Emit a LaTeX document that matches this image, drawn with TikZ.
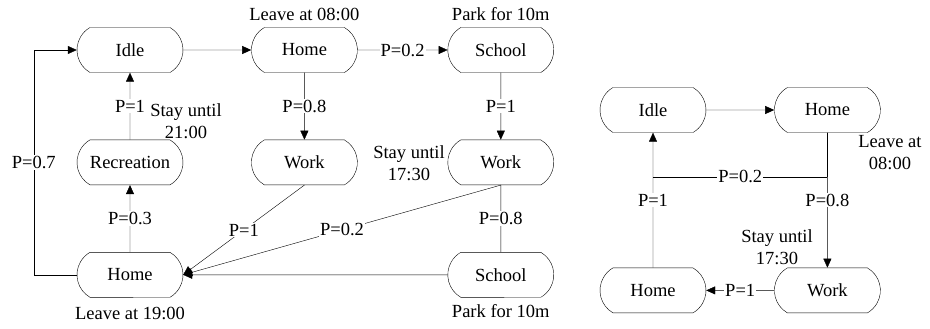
\documentclass[tikz,border=0pt]{standalone}
\usepackage{fontspec}
\setmainfont{Liberation Serif}
\newfontfamily\diagfont{Liberation Serif}
\usetikzlibrary{arrows.meta, positioning, shapes.misc}
\tikzset{
	x=1pt, y=-1pt,
	node distance = 67pt,
	line width = 1.2pt,
	>={Triangle[length=9pt,width=8pt]},
	font = \diagfont\fontsize{18.5}{22}\selectfont,
	state/.style={
		draw,
		rounded rectangle,
		rounded rectangle arc length=120,
		minimum width=110pt,
		minimum height=45pt,
		inner sep=2pt
	},
	edge/.style={
		->
	},
	lbl/.style={
		fill=white,
		inner sep=1pt
	},
	note/.style={
		align=center,
		inner sep=1pt
	}
}
\begin{document}
\begin{tikzpicture}
	\useasboundingbox (0,0) rectangle (930,329);
	\node[state] (idle) at (130,50) {Idle};
	\node[state, right=68pt of idle] (homeT) {Home};
	\node[state, right=90pt of homeT] (schoolT) {School};
	\node[state, below=of idle] (recr) {Recreation};
	\node[state, below=of recr] (homeB) {Home};
	\node[state, below=of homeT] (workM) {Work};
	\node[state, below=of schoolT] (workR) {Work};
	\node[state, below=of workR] (schoolB) {School};
	\node[note, above=5pt of homeT] (leaveT) {Leave at 08:00};
	\node[note, above=5pt of schoolT] (parkT) {Park for 10m};
	\node[note, below=8pt of homeB] (leaveB) {Leave at 19:00};
	\node[note, below=6pt of schoolB] (parkB) {Park for 10m};
	\node[note] (stayA) at (186,121) {Stay until\\21:00};
	\node[note] (stayB) at (409,163) {Stay until\\17:30};
	\draw[edge] (idle) -- (homeT);
	\draw[edge] (homeT) -- node[lbl] {P=0.2} (schoolT);
	\draw[edge] (homeT) -- node[lbl] {P=0.8} (workM);
	\draw[edge] (schoolT) -- node[lbl] {P=1} (workR);
	\draw (workR) -- node[lbl] {P=0.8} (schoolB);
	\draw[edge] (schoolB) -- (homeB);
	\draw[edge] (workM.south) -- node[lbl] {P=1} (homeB.east);
	\draw[edge] (workR.south) -- node[lbl] {P=0.2} (homeB.east);
	\draw[edge] (homeB) -- node[lbl] {P=0.3} (recr);
	\draw[edge] (recr) -- node[lbl] {P=1} (idle);
	\draw[edge] (homeB.west) -- ++(-43,0) |- (idle.west) node[lbl, pos=0.25] {P=0.7};

	\node[state] (idle2) at (653,110) {Idle};
	\node[state, right=68pt of idle2] (home2) {Home};
	\node[state, below=135pt of home2] (work2) {Work};
	\node[state, left=68pt of work2] (home3) {Home};
	\node[note] (leaveR) at (890,153) {Leave at\\08:00};
	\node[note] (stayR) at (777,247) {Stay until\\17:30};
	\draw[edge] (idle2) -- (home2);
	\draw[edge] (home2) -- node[lbl] {P=0.8} (work2);
	\draw (home2.south) -- ++(0,44) coordinate (br);
	\draw (br) -- node[lbl] {P=0.2} (br -| idle2);
	\draw[edge] (home3) -- node[lbl] {P=1} (idle2);
	\draw[edge] (work2) -- node[lbl] {P=1} (home3);
\end{tikzpicture}
\end{document}
